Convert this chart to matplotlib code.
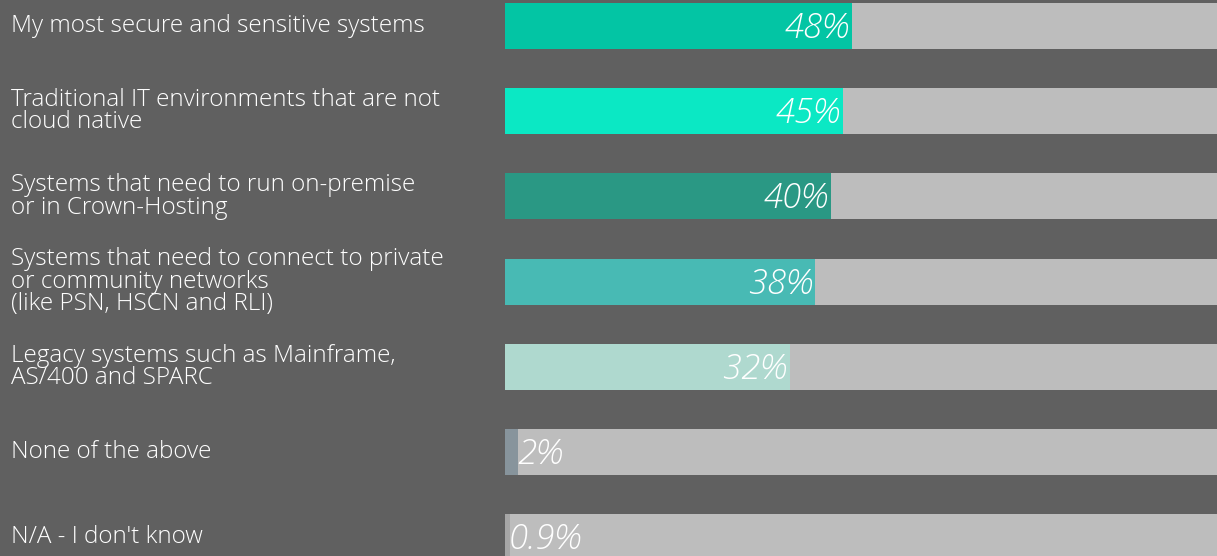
import matplotlib.pyplot as plt
import matplotlib.transforms as mtransforms

categories = [
    "My most secure and sensitive systems",
    "Traditional IT environments that are not\ncloud native",
    "Systems that need to run on-premise\nor in Crown-Hosting",
    "Systems that need to connect to private\nor community networks\n(like PSN, HSCN and RLI)",
    "Legacy systems such as Mainframe,\nAS/400 and SPARC",
    "None of the above",
    "N/A - I don't know",
]
value_labels = ["48%", "45%", "40%", "38%", "32%", "2%", "0.9%"]
# bar lengths as drawn in the picture (percent of full track)
fill_values = [48, 46.7, 45.1, 42.9, 39.4, 1.8, 0.7]
fill_colors = ["#03c5a4", "#0be8c4", "#2a9884", "#48bab4", "#afd9cf", "#87949c", "#a6a6a6"]

bg = "#606060"
track = "#bdbdbd"

fig = plt.figure(figsize=(12.17, 5.56), dpi=100)
fig.patch.set_facecolor(bg)
ax = fig.add_axes([505 / 1217, 0, 712 / 1217, 1])
ax.set_facecolor(bg)

n = len(categories)
ypos = list(range(n))
bar_h = 46 / 85.2
ax.barh(ypos, [100] * n, height=bar_h, color=track, linewidth=0)
ax.barh(ypos, fill_values, height=bar_h, color=fill_colors, linewidth=0)

ax.set_xlim(0, 712 / 7.23)
ax.set_ylim((556 - 26) / 85.2, -26 / 85.2)
ax.axis("off")

for y, v, lab in zip(ypos, fill_values, value_labels):
    if v < 5:
        ax.text(v - 0.15, y + 0.03, lab, ha="left", va="center", color="white",
                fontsize=25, style="italic", family="Open Sans", weight="light")
    else:
        ax.text(v - 0.4, y + 0.03, lab, ha="right", va="center", color="white",
                fontsize=25, style="italic", family="Open Sans", weight="light")

trans = mtransforms.blended_transform_factory(fig.transFigure, ax.transData)
for y, cat in zip(ypos, categories):
    ax.text(11 / 1217, y, cat, transform=trans, ha="left", va="center",
            color="white", fontsize=17.5, family="Open Sans", weight="light",
            linespacing=0.9)

fig.savefig("out.png", dpi=100, facecolor=bg)
